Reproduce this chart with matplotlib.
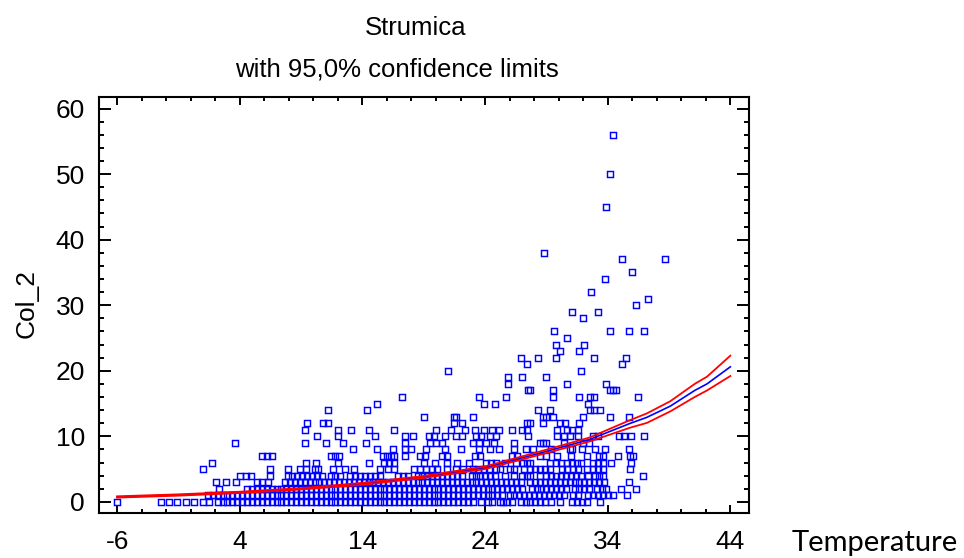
import numpy as np
import matplotlib
matplotlib.use("Agg")
import matplotlib.pyplot as plt
from matplotlib.ticker import MultipleLocator, FixedLocator

# Col_2 values 0..11: temperatures, one list per row
temp_y0 = [-6.0, -2.4, -1.8, -1.1, -0.4, 0.3, 1.0, 1.5, 2.2, 2.6, 3.0, 3.4, 3.8, 4.2, 4.6, 5.0,
           5.4, 5.8, 6.2, 6.6, 7.0, 7.4, 7.8, 8.2, 8.6, 9.0, 9.4, 9.8, 10.2, 10.6, 11.0, 11.4,
           11.8, 12.2, 12.6, 13.0, 13.4, 13.8, 14.2, 14.6, 15.0, 15.4, 15.8, 16.2, 16.6, 17.0,
           17.4, 17.8, 18.2, 18.6, 19.0, 19.4, 19.8, 20.2, 20.6, 21.0, 21.4, 21.8, 22.2, 22.6,
           23.0, 23.7, 24.2, 24.6, 25.2, 25.5, 25.8, 26.2, 26.9, 27.3, 27.7, 28.1, 28.5, 28.9,
           29.4, 30.1, 31.1, 31.5, 31.9, 32.3, 33.4]
temp_y1 = [1.4, 1.8, 2.2, 2.6, 3.0, 3.4, 3.8, 4.2, 4.6, 5.0, 5.4, 5.8, 6.2, 6.6, 7.0, 7.4, 7.8,
           8.2, 8.6, 9.0, 9.4, 9.8, 10.2, 10.6, 11.0, 11.4, 11.8, 12.2, 12.6, 13.0, 13.4, 13.8,
           14.2, 14.6, 15.0, 15.4, 15.8, 16.2, 16.6, 17.0, 17.4, 17.8, 18.2, 18.6, 19.0, 19.4,
           19.8, 20.2, 20.6, 21.0, 21.4, 21.8, 22.2, 22.6, 23.0, 23.4, 23.8, 24.2, 24.6, 25.0,
           25.4, 26.0, 26.4, 26.8, 27.2, 27.6, 28.0, 28.4, 28.8, 29.2, 29.6, 30.0, 30.4, 31.2,
           31.6, 32.4, 32.8, 33.2, 33.6, 34.0, 34.4, 35.6]
temp_y2 = [2.3, 4.6, 5.0, 5.4, 5.8, 6.2, 6.6, 7.0, 7.4, 7.8, 8.2, 8.6, 9.0, 9.4, 9.8, 10.2, 10.6,
           11.0, 11.4, 11.8, 12.2, 12.6, 13.0, 13.4, 13.8, 14.2, 14.6, 15.0, 15.4, 15.8, 16.2,
           16.6, 17.0, 17.4, 17.8, 18.2, 18.6, 19.0, 19.4, 19.8, 20.2, 20.6, 21.0, 21.4, 21.8,
           22.2, 22.6, 23.0, 23.4, 23.8, 24.2, 24.6, 25.0, 25.4, 25.8, 26.2, 26.6, 27.0, 27.8,
           28.2, 28.6, 29.0, 29.4, 29.8, 30.2, 30.6, 31.3, 31.7, 32.1, 32.5, 33.1, 33.5, 33.9,
           35.1, 36.3]
temp_y3 = [2.1, 2.9, 3.7, 5.4, 5.8, 6.3, 7.7, 8.1, 8.5, 8.9, 9.3, 9.7, 10.1, 10.5, 10.9, 11.3,
           11.7, 12.1, 12.5, 12.9, 13.3, 13.7, 14.1, 14.5, 14.9, 15.3, 15.7, 16.1, 16.5, 16.9,
           17.3, 17.7, 18.1, 18.5, 18.9, 19.3, 19.7, 20.1, 20.5, 20.9, 21.3, 21.7, 22.1, 22.5,
           22.9, 23.3, 23.7, 24.1, 24.5, 24.9, 25.3, 25.7, 26.1, 26.5, 26.9, 27.7, 28.1, 28.5,
           28.9, 29.3, 29.7, 30.1, 30.5, 30.9, 31.3, 31.7, 32.1, 32.5, 32.9, 33.3, 33.7, 35.7]
temp_y4 = [4.0, 4.5, 4.9, 6.5, 7.9, 8.3, 8.7, 9.1, 9.5, 9.9, 10.3, 10.7, 11.4, 11.8, 12.2, 13.0,
           13.4, 13.8, 14.2, 14.6, 15.0, 15.4, 16.9, 17.3, 17.7, 18.5, 18.9, 19.3, 19.7, 20.1,
           20.5, 20.9, 21.3, 21.7, 22.1, 22.9, 23.3, 23.6, 24.0, 24.4, 24.8, 25.6, 26.4, 27.0,
           27.4, 27.7, 28.5, 29.0, 29.4, 29.8, 30.2, 30.6, 31.0, 31.4, 31.8, 32.4, 33.0, 33.3,
           33.6, 36.9]
temp_y5 = [1.0, 6.5, 7.9, 8.9, 9.4, 10.1, 10.4, 11.6, 12.6, 13.3, 15.4, 16.1, 16.6, 18.2, 18.7,
           19.2, 19.7, 20.1, 20.9, 21.6, 22.2, 23.0, 23.4, 23.9, 24.3, 24.9, 25.2, 26.0, 26.4,
           27.2, 27.7, 28.1, 28.5, 28.9, 29.3, 30.3, 30.7, 31.2, 31.6, 32.3, 32.8, 33.2, 33.6,
           35.8]
temp_y6 = [1.7, 9.4, 10.2, 12.0, 14.5, 15.8, 16.2, 16.6, 19.0, 19.9, 20.9, 21.7, 22.7, 24.1,
           24.5, 24.9, 25.6, 26.5, 27.1, 27.4, 27.7, 29.3, 29.8, 30.2, 30.7, 31.1, 31.5, 31.8,
           32.8, 33.2, 33.6, 34.3, 35.9]
temp_y7 = [5.8, 6.2, 6.6, 11.4, 11.8, 12.1, 15.7, 16.0, 16.3, 16.6, 17.5, 18.7, 19.1, 20.5,
           20.9, 23.2, 23.6, 26.2, 26.6, 28.5, 29.0, 29.9, 31.0, 32.3, 33.3, 33.6, 34.8, 35.8,
           36.1]
temp_y8 = [13.2, 15.2, 16.5, 17.5, 18.0, 19.2, 20.7, 22.0, 23.5, 24.4, 25.1, 26.4, 27.3, 27.9,
           29.4, 30.9, 31.1, 31.9, 33.0, 33.8, 35.7]
temp_y9 = [3.6, 9.3, 11.0, 12.4, 14.3, 17.5, 19.5, 20.0, 20.5, 23.0, 23.5, 24.1, 24.7, 26.4,
           28.5, 28.7, 29.0, 30.4, 32.0, 32.5]
temp_y10 = [10.3, 12.0, 15.0, 17.5, 18.1, 19.4, 19.8, 20.7, 21.6, 22.1, 23.3, 23.7, 24.4, 24.9,
            27.5, 29.9, 30.4, 30.9, 31.6, 32.8, 33.2, 34.9, 35.3, 35.9, 37.0]
temp_y11 = [9.3, 12.0, 13.1, 14.5, 16.6, 20.0, 21.2, 22.4, 23.2, 23.9, 24.6, 25.1, 26.2, 27.0,
            27.4, 29.9, 30.7, 31.1, 31.6]

# sparser points above 11
high_x = [9.5, 10.8, 11.2, 21.45, 22.1, 27.4, 27.7, 28.7, 30.1, 30.5, 31.7,
          19.0, 21.45, 21.6, 23.0, 28.7, 29.0, 29.5, 32.0, 34.2, 35.7,
          11.2, 14.4, 28.3, 29.3, 32.55, 32.9, 33.4,
          15.2, 23.9, 24.85, 32.4,
          17.2, 23.5, 25.7, 29.5, 31.7, 32.55, 32.9, 36.5,
          27.5, 27.7, 29.5, 34.2, 34.4, 34.7,
          25.9, 30.7, 33.9,
          25.9, 27.0, 29.0,
          21.0, 31.8,
          27.4, 35.2,
          26.9, 28.3, 29.8, 32.9, 35.5,
          30.1, 31.7,
          29.8, 32.1,
          30.7,
          29.6, 34.2, 35.7, 37.0,
          32.0, 31.1, 33.2, 36.3, 37.3, 32.6, 33.8, 36.0, 35.2, 38.7, 28.8,
          33.9, 34.2, 34.4]
high_y = [12] * 11 + [13] * 10 + [14] * 7 + [15] * 4 + [16] * 8 + [17] * 6 + [18] * 3 + \
         [19] * 3 + [20] * 2 + [21] * 2 + [22] * 5 + [23] * 2 + [24] * 2 + [25] + [26] * 4 + \
         [28, 29, 29, 30, 31, 32, 34, 35, 37, 37, 38, 45, 50, 56]

# fitted model and 95% limits
fit_x = [-6, -1, 4, 9, 14, 19, 24, 28.5, 32.5, 35.8, 37.2, 39.1, 41.1, 42.1, 44]
fit_y = [0.75, 1.05, 1.45, 2.0, 2.75, 3.8, 5.2, 7.45, 9.5, 11.95, 12.9, 14.6, 17.0, 18.0, 20.6]
upper = [0.85, 1.15, 1.55, 2.1, 2.9, 3.95, 5.4, 7.7, 9.8, 12.45, 13.5, 15.35, 18.0, 19.1, 22.3]
lower = [0.65, 0.95, 1.35, 1.9, 2.6, 3.65, 5.0, 7.2, 9.2, 11.3, 12.05, 13.8, 16.0, 17.0, 19.2]

low_rows = [temp_y0, temp_y1, temp_y2, temp_y3, temp_y4, temp_y5, temp_y6, temp_y7,
            temp_y8, temp_y9, temp_y10, temp_y11]
xs = np.concatenate([np.array(r) for r in low_rows] + [np.array(high_x)])
ys = np.concatenate([np.full(len(r), i) for i, r in enumerate(low_rows)] + [np.array(high_y)])

plt.rcParams['font.family'] = ['Liberation Sans', 'DejaVu Sans']
plt.rcParams['axes.unicode_minus'] = False

fig = plt.figure(figsize=(9.64, 5.58), dpi=100)
ax = fig.add_axes([0.1024, 0.0806, 0.6743, 0.7461])

ax.plot(xs, ys, linestyle='none', marker='s', ms=4.9, mfc='none', mec='#0000ff', mew=1.05)
# blue first so the red limits cover it where they merge
ax.plot(fit_x, fit_y, color='#0000ff', lw=1.2)
ax.plot(fit_x, upper, color='#ff0000', lw=1.3)
ax.plot(fit_x, lower, color='#ff0000', lw=1.3)

ax.set_xlim(-7.5, 45.5)
ax.set_ylim(-1.7, 61.8)
ax.xaxis.set_major_locator(FixedLocator([-6, 4, 14, 24, 34, 44]))
ax.xaxis.set_minor_locator(FixedLocator(np.arange(-6, 45, 2)))
ax.yaxis.set_major_locator(MultipleLocator(10))
ax.yaxis.set_minor_locator(MultipleLocator(2))

for s in ax.spines.values():
    s.set_linewidth(1.5)
ax.tick_params(which='both', direction='in', top=True, right=True, width=1.4,
               labelsize=19, colors='black')
ax.tick_params(axis='x', which='major', length=6, pad=12)
ax.tick_params(axis='x', which='minor', length=3)
ax.tick_params(axis='y', which='major', length=8.5, pad=10)
ax.tick_params(axis='y', which='minor', length=3.8)

fig.text(416 / 964, 1 - 28 / 558, 'Strumica', ha='center', va='center', fontsize=18.5)
fig.text(397 / 964, 1 - 70 / 558, 'with 95,0% confidence limits', ha='center', va='center',
         fontsize=18.5)
fig.text(27 / 964, 1 - 303 / 558, 'Col_2', rotation=90, ha='center', va='center', fontsize=19)
fig.text(792 / 964, 1 - 550.7 / 558, 'Temperature', ha='left', va='baseline', fontsize=21,
         family=['Lato', 'DejaVu Sans'])

fig.savefig('out.png', dpi=100)
